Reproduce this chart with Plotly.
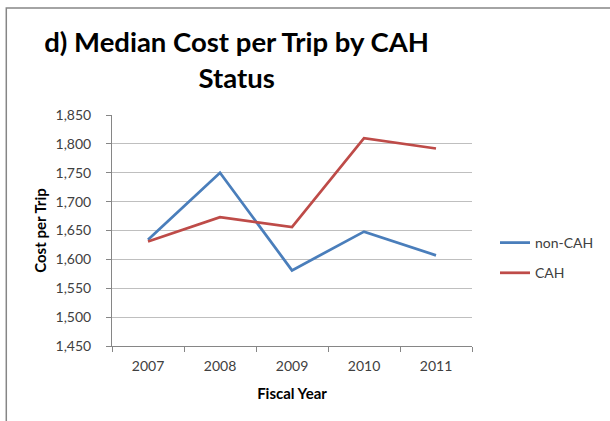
import plotly.graph_objects as go

years = ["2007", "2008", "2009", "2010", "2011"]
non_cah = [1634, 1750, 1581, 1648, 1607]
cah = [1631, 1673, 1656, 1810, 1792]
y_ticks = [1450, 1500, 1550, 1600, 1650, 1700, 1750, 1800, 1850]
y_tick_labels = ["1,450", "1,500", "1,550", "1,600", "1,650", "1,700", "1,750", "1,800", "1,850"]

FONT = "Lato, Open Sans, sans-serif"
W, H = 610, 421
ML, MR, MT, MB = 112, 137, 115, 75
PW, PH = W - ML - MR, H - MT - MB

def px_x(p):
    return (p - ML) / PW

def px_y(p):
    return (H - MB - p) / PH

fig = go.Figure()
fig.add_trace(go.Scatter(x=years, y=non_cah, mode="lines", name="non-CAH",
                         legendgroup="a",
                         line=dict(color="#4A7EBB", width=2.75)))
fig.add_trace(go.Scatter(x=years, y=cah, mode="lines", name="CAH",
                         legendgroup="b",
                         line=dict(color="#BE4B48", width=2.75)))

fig.update_layout(
    width=W, height=H,
    margin=dict(l=ML, r=MR, t=MT, b=MB),
    paper_bgcolor="white", plot_bgcolor="white",
    font=dict(family=FONT, color="#404040", size=14),
    title=dict(text="<b>d) Median Cost per Trip by CAH<br>Status</b>",
               x=px_x(237), xref="paper", xanchor="center",
               y=1 - 52 / H, yanchor="middle",
               font=dict(family=FONT, size=27.5, color="black")),
    showlegend=True,
    legend=dict(x=px_x(495), xanchor="left", y=px_y(258), yanchor="middle",
                font=dict(family=FONT, size=14, color="#404040"),
                tracegroupgap=9, itemwidth=30, bgcolor="rgba(0,0,0,0)"),
    xaxis=dict(type="category", range=[-0.5, 4.5], tickson="boundaries",
               ticks="outside", ticklen=5, tickcolor="#868686",
               showline=True, linecolor="#868686", linewidth=1,
               showgrid=False, zeroline=False, ticklabelstandoff=7,
               tickfont=dict(family=FONT, size=14, color="#404040"),
               title=dict(text="<b>Fiscal Year</b>", standoff=15,
                          font=dict(family=FONT, size=15, color="black"))),
    yaxis=dict(range=[1450, 1850], tickvals=y_ticks, ticktext=y_tick_labels,
               ticks="outside", ticklen=5, tickcolor="#868686",
               showline=True, linecolor="#868686", linewidth=1,
               showgrid=True, gridcolor="#BFBFBF", gridwidth=1, zeroline=False,
               ticklabelstandoff=12,
               tickfont=dict(family=FONT, size=14, color="#404040"),
               title=dict(text="<b>Cost per Trip</b>", standoff=5,
                          font=dict(family=FONT, size=15, color="black"))),
)

fig.add_shape(type="rect", xref="paper", yref="paper",
              x0=px_x(6), x1=px_x(640), y0=px_y(460), y1=px_y(8),
              line=dict(color="#868686", width=1.5), layer="below")

fig.write_html("out.html", config={"displayModeBar": False},
               post_script="document.body.style.margin='0';")
